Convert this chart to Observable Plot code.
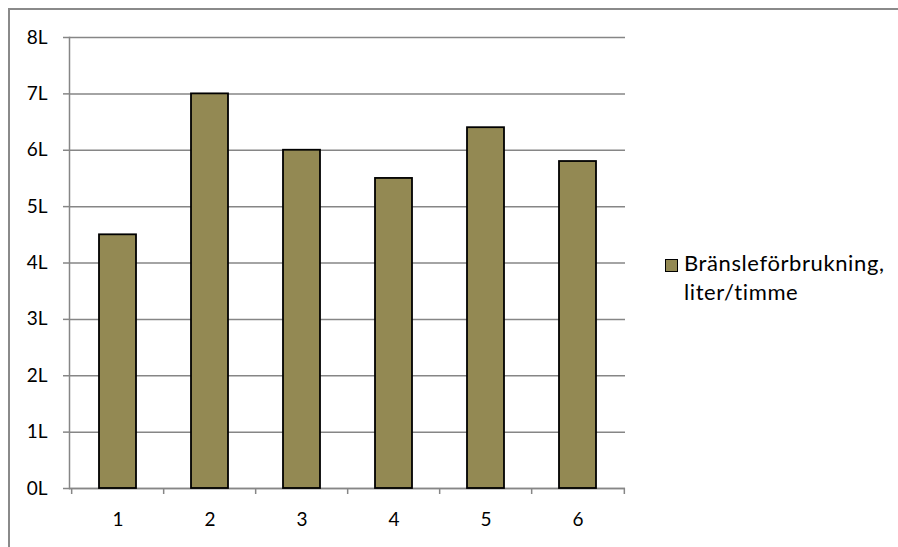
<!DOCTYPE html>
<html>
<head>
<meta charset="utf-8">
<script src="https://cdn.jsdelivr.net/npm/d3@7"></script>
<script src="https://cdn.jsdelivr.net/npm/@observablehq/plot@0.6"></script>
<style>
  html, body { margin: 0; padding: 0; background: #fff; overflow: hidden; }
  body { width: 898px; height: 547px; position: relative; font-family: Lato, "Open Sans", sans-serif; }
  #border { position: absolute; left: 8px; top: 8px; width: 1000px; height: 1000px; border: 2px solid #8a8a8a; box-sizing: border-box; }
  #chart { position: absolute; left: 0; top: 0; }
  #legend { position: absolute; left: 665px; top: 249px; font-size: 22px; line-height: 28.5px; letter-spacing: 0.6px; color: #000; }
  #legend .sw { position: absolute; left: 0; top: 10px; width: 11px; height: 11px; background: #938953; border: 1px solid #000; }
  #legend .tx { position: absolute; left: 19px; top: 0; white-space: nowrap; }
</style>
</head>
<body>
<div id="border"></div>
<div id="chart"></div>
<div id="legend"><div class="sw"></div><div class="tx">Bränsleförbrukning,<br>liter/timme</div></div>
<script>
const categories = ["1", "2", "3", "4", "5", "6"];
const values = [4.5, 7, 6, 5.5, 6.4, 5.8];
const yTicks = [0, 1, 2, 3, 4, 5, 6, 7, 8];
const seriesName = "Bränsleförbrukning, liter/timme";

const data = categories.map((c, i) => ({cat: c, v: values[i]}));
const W = 898, H = 547;
const mL = 69, mR = 273, mT = 37, mB = 59;
const step = (W - mL - mR) / categories.length;
const gridColor = "#868686";
const fs = 19;

const chart = Plot.plot({
  width: W,
  height: H,
  marginLeft: mL,
  marginRight: mR,
  marginTop: mT,
  marginBottom: mB,
  style: {fontFamily: "Lato, 'Open Sans', sans-serif", fontSize: fs + "px", color: "#000", background: "transparent"},
  x: {type: "band", domain: categories, paddingInner: 0.6, paddingOuter: 0.3},
  y: {domain: [0, 8]},
  marks: [
    Plot.gridY({ticks: yTicks, stroke: gridColor, strokeOpacity: 1, strokeWidth: 1.5}),
    Plot.frame({anchor: "left", stroke: gridColor, strokeWidth: 1.5}),
    Plot.ruleY([0], {stroke: gridColor, strokeWidth: 1.5}),
    Plot.ruleX(categories, {x: d => d, dx: -step / 2, insetTop: H - mT - mB, insetBottom: -6, stroke: gridColor, strokeWidth: 1.5}),
    Plot.ruleX(categories.slice(-1), {x: d => d, dx: step / 2, insetTop: H - mT - mB, insetBottom: -6, stroke: gridColor, strokeWidth: 1.5}),
    Plot.barY(data, {x: "cat", y: "v", fill: "#938953", stroke: "#000", strokeWidth: 1.8, title: d => seriesName + ": " + d.v}),
    Plot.axisY({ticks: yTicks, tickSize: 6, tickPadding: 16, tickFormat: d => d + "L", stroke: gridColor, strokeWidth: 1.5, fill: "#000", fontSize: fs, label: null}),
    Plot.axisX({tickSize: 0, tickPadding: 24, fill: "#000", fontSize: fs, label: null})
  ]
});
d3.select(chart).selectAll("text").style("font-size", fs + "px").style("font-family", "Lato, 'Open Sans', sans-serif");
document.getElementById("chart").appendChild(chart);
</script>
</body>
</html>
